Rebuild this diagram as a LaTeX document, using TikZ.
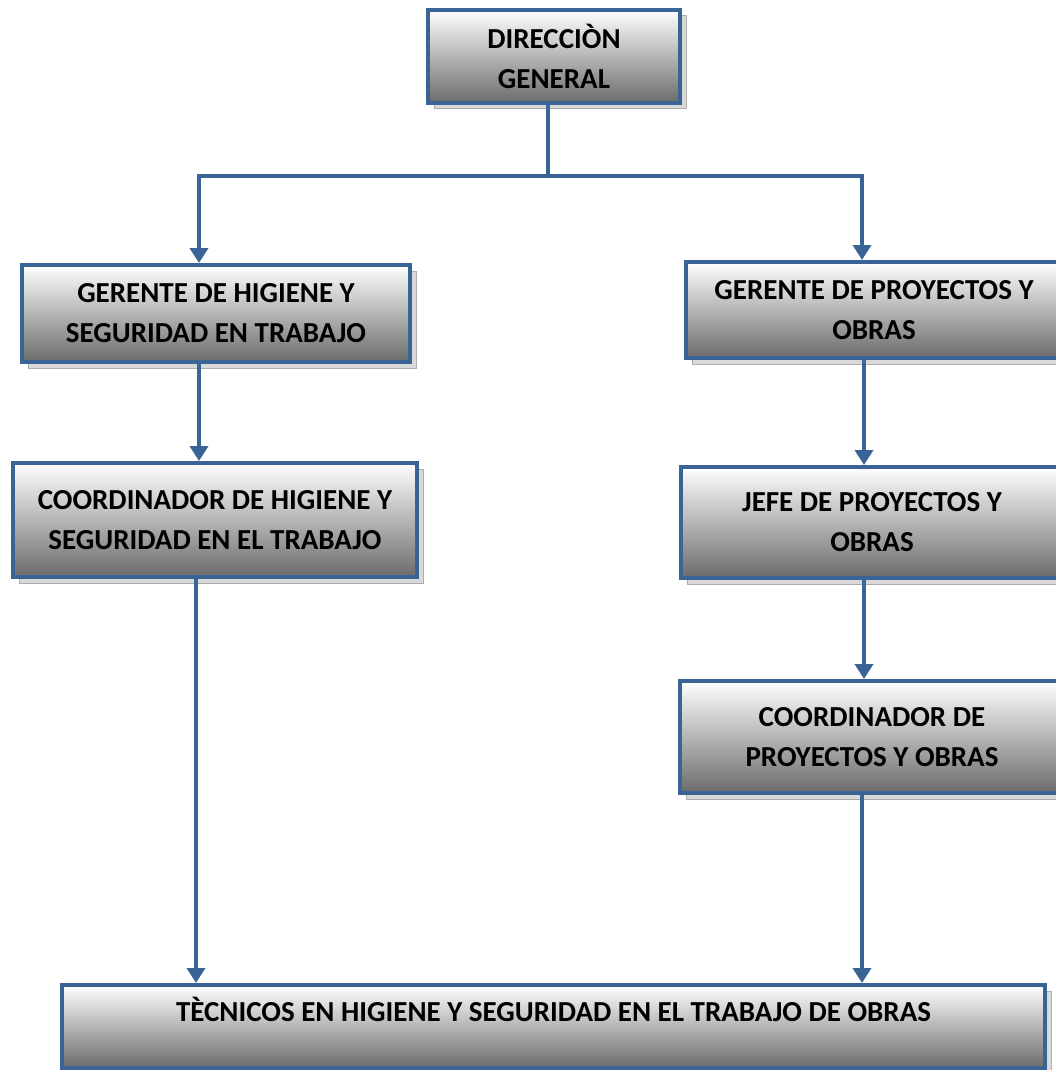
\documentclass[tikz,border=0pt]{standalone}
\usepackage{fontspec}
\setmainfont{Carlito}
\usetikzlibrary{arrows.meta,shadows}
\definecolor{frame}{RGB}{58,99,150}
\begin{document}
\begin{tikzpicture}[x=1pt,y=-1pt,
  unit/.style={draw=frame, line width=4pt, top color=white, bottom color=black!58,
    align=center, inner sep=0pt,
    font=\fontsize{29}{40}\selectfont\bfseries,
    general shadow={shadow xshift=6pt, shadow yshift=-6pt, fill=black!15, draw=black!32, line width=1pt}},
  link/.style={draw=frame, line width=4pt},
  arrowlink/.style={link, -{Triangle[width=18pt,length=15pt]}}]
\useasboundingbox (0,0) rectangle (1056,1070);
\clip (0,0) rectangle (1056,1070);

% organisational units
\node[unit, minimum width=252pt, minimum height=93pt] (dg) at (554,56.5) {DIRECCIÒN\\GENERAL};
\node[unit, minimum width=388pt, minimum height=97pt] (ghs) at (216,313.5) {GERENTE DE HIGIENE Y\\SEGURIDAD EN TRABAJO};
\node[unit, minimum width=376pt, minimum height=96pt] (gpo) at (874,310) {GERENTE DE PROYECTOS Y\\OBRAS};
\node[unit, minimum width=404pt, minimum height=114pt] (chs) at (215,520) {COORDINADOR DE HIGIENE Y\\SEGURIDAD EN EL TRABAJO};
\node[unit, minimum width=382pt, minimum height=111pt] (jpo) at (872,522.5) {JEFE DE PROYECTOS Y\\OBRAS};
\node[unit, minimum width=384pt, minimum height=112pt] (cpo) at (872,737) {COORDINADOR DE\\PROYECTOS Y OBRAS};
\node[unit, minimum width=983pt, minimum height=83pt, text height=19pt, text depth=30pt] (tec) at (553.5,1026.5) {TÈCNICOS EN HIGIENE Y SEGURIDAD EN EL TRABAJO DE OBRAS};

% column positions of the connectors
\coordinate (busM) at (548,176);
\coordinate (xL1) at (199,0);
\coordinate (xL2) at (196,0);
\coordinate (xR1) at (864,0);
\coordinate (xR2) at (862,0);

% connectors
\draw[link] (dg.south -| busM) -- (busM);
\draw[arrowlink] (busM) -| (ghs.north -| xL1);
\draw[arrowlink] (busM) -| (gpo.north -| xR2);
\draw[arrowlink] (ghs.south -| xL1) -- (chs.north -| xL1);
\draw[arrowlink] (chs.south -| xL2) -- (tec.north -| xL2);
\draw[arrowlink] (gpo.south -| xR1) -- (jpo.north -| xR1);
\draw[arrowlink] (jpo.south -| xR1) -- (cpo.north -| xR1);
\draw[arrowlink] (cpo.south -| xR2) -- (tec.north -| xR2);
\end{tikzpicture}
\end{document}
